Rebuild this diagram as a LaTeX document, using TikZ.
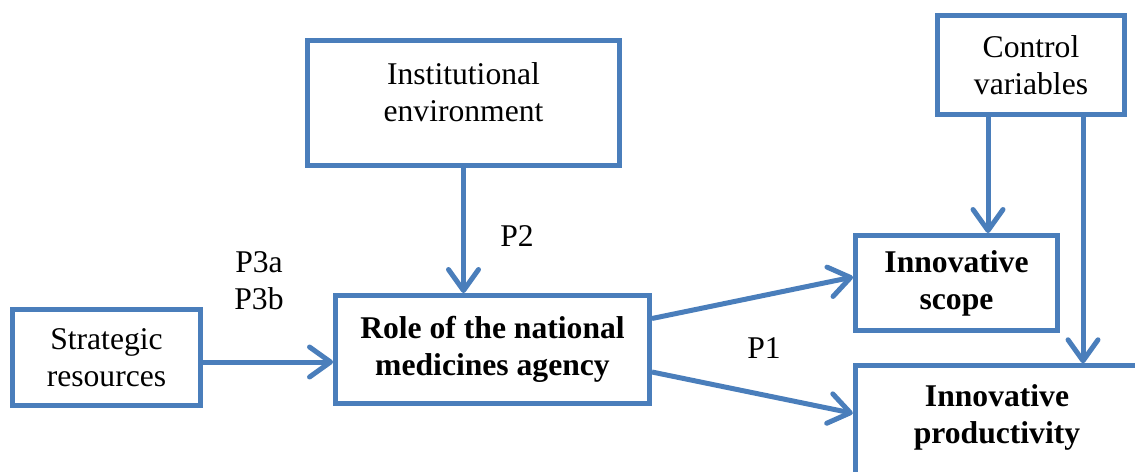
\documentclass[tikz,border=0pt]{standalone}
\usepackage{fontspec}
\setmainfont{Liberation Serif}
\usetikzlibrary{arrows.meta,calc}
\definecolor{boxblue}{HTML}{4A7EBB}

\begin{document}
\begin{tikzpicture}[x=0.02cm,y=-0.02cm,font=\fontsize{18}{21}\selectfont,
  box/.style={draw=boxblue,line width=0.1cm,align=center,inner sep=0pt},
  flow/.style={draw=boxblue,line width=0.1cm,-{Straight Barb[length=0.42cm,width=0.6cm,round]}}]
 \useasboundingbox (0,0) rectangle (1135,471);
 % boxes
 \node[box,minimum width=6.24cm,minimum height=2.5cm] (inst) at (463.5,103) {};
 \node[align=center] (insttxt) at (463.5,92) {Institutional\\environment};
 \node[box,minimum width=3.74cm,minimum height=1.98cm] (ctrl) at (1031,65) {Control\\variables};
 \node[box,minimum width=3.76cm,minimum height=1.92cm] (strat) at (106.5,357.5) {Strategic\\resources};
 \node[box,minimum width=6.28cm,minimum height=2.16cm,font=\fontsize{18}{21}\selectfont\bfseries] (role) at (492.5,349.5) {Role of the national\\medicines agency};
 \node[box,minimum width=4.04cm,minimum height=1.9cm,font=\fontsize{18}{21}\selectfont\bfseries] (scope) at (956.5,283) {Innovative\\scope};
 \node[box,minimum width=5.79cm,minimum height=3.09cm] (prod) at (1000,443) {};
 \node[align=center,font=\fontsize{18}{21}\selectfont\bfseries] (prodtxt) at (997,417) {Innovative\\productivity};
 % arrows
 \draw[flow] (inst.south) -- (inst.south |- role.north);
 \draw[flow] ($(strat.east)+(0,4.5)$) coordinate (s1) -- (s1 -| role.west);
 \draw[flow] ($(ctrl.south)+(-43,0)$) coordinate (c1) -- (c1 |- scope.north);
 \draw[flow] ($(ctrl.south)+(52,0)$) coordinate (c2) -- (c2 |- prod.north);
 \draw[flow] ($(role.east)+(0,-31)$) -- ($(scope.west)+(0,-6)$);
 \draw[flow] ($(role.east)+(0,22.5)$) -- ($(prod.north west)+(0,50)$);
 % labels
 \node (p2) at (517,236) {P2};
 \node[align=center] (p3) at (259,281) {P3a\\P3b};
 \node (p1) at (764,348) {P1};
\end{tikzpicture}
\end{document}
